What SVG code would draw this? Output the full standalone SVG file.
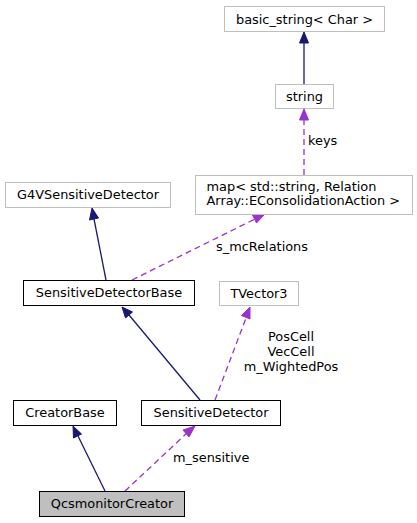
<svg xmlns="http://www.w3.org/2000/svg" width="417" height="523" viewBox="0 0 417 523">
<style>
text{font-family:"DejaVu Sans",sans-serif;font-size:12.9px;fill:#000}
.n{text-anchor:middle}
.g{fill:#fff;stroke:#bfbfbf;stroke-width:1}
.b{fill:#fff;stroke:#000;stroke-width:1}
.h{fill:#bfbfbf;stroke:#000;stroke-width:1}
.inh{stroke:#191970;stroke-width:1.3;fill:none}
.use{stroke:#9a32cd;stroke-width:1.3;fill:none;stroke-dasharray:6,4}
.ai{fill:#191970;stroke:#191970}
.au{fill:#9a32cd;stroke:#9a32cd}
</style>
<rect width="417" height="523" fill="#fff"/>
<g id="edges">
<line class="inh" x1="304" y1="84" x2="304" y2="43"/>
<polygon class="ai" points="304,32 299.5,43 308.5,43"/>
<line class="use" x1="304" y1="175" x2="304" y2="120"/>
<polygon class="au" points="304,109 299.5,120 308.5,120"/>
<text x="308" y="145">keys</text>
<line class="inh" x1="106" y1="280" x2="94" y2="219"/>
<polygon class="ai" points="92,208 89.5,220 98.5,218"/>
<line class="use" x1="132" y1="280" x2="255" y2="219"/>
<polygon class="au" points="265,214 252.5,215 256.5,223"/>
<text x="216" y="251">s_mcRelations</text>
<line class="inh" x1="200" y1="400" x2="129" y2="315"/>
<polygon class="ai" points="122,307 125.5,318 132.5,312"/>
<line class="use" x1="215" y1="400" x2="246" y2="318"/>
<polygon class="au" points="250,307 241.5,315.5 250,319"/>
<text class="n" x="291" y="341">PosCell</text>
<text class="n" x="291" y="356">VecCell</text>
<text class="n" x="291" y="371">m_WightedPos</text>
<line class="inh" x1="105" y1="491" x2="78" y2="436"/>
<polygon class="ai" points="73,426 73.5,438 81.5,434"/>
<line class="use" x1="125" y1="491" x2="187" y2="433"/>
<polygon class="au" points="195,426 183,430 189,437"/>
<text x="173" y="462">m_sensitive</text>
</g>
<g id="basic_string"><rect class="g" x="224.5" y="6.5" width="160" height="25"/><text class="n" x="304.5" y="23.5">basic_string&lt; Char &gt;</text></g>
<g id="string"><rect class="g" x="275.5" y="84.5" width="58" height="24"/><text class="n" x="304.5" y="101">string</text></g>
<g id="map"><rect class="g" x="195.5" y="175.5" width="217" height="39"/><text x="206.5" y="190.5">map&lt; std::string, Relation</text><text x="206.5" y="205">Array::EConsolidationAction &gt;</text></g>
<g id="G4VSensitiveDetector"><rect class="g" x="5.5" y="182.5" width="165" height="25"/><text class="n" x="88" y="199">G4VSensitiveDetector</text></g>
<g id="SensitiveDetectorBase"><rect class="b" x="23.5" y="280.5" width="171" height="25"/><text class="n" x="109" y="297">SensitiveDetectorBase</text></g>
<g id="TVector3"><rect class="g" x="219.5" y="281.5" width="79" height="24"/><text class="n" x="259" y="298">TVector3</text></g>
<g id="CreatorBase"><rect class="b" x="13.5" y="400.5" width="103" height="25"/><text class="n" x="65" y="417">CreatorBase</text></g>
<g id="SensitiveDetector"><rect class="b" x="141.5" y="400.5" width="139" height="25"/><text class="n" x="211" y="417">SensitiveDetector</text></g>
<g id="QcsmonitorCreator"><rect class="h" x="39.5" y="491.5" width="145" height="25"/><text class="n" x="112" y="508">QcsmonitorCreator</text></g>
</svg>
